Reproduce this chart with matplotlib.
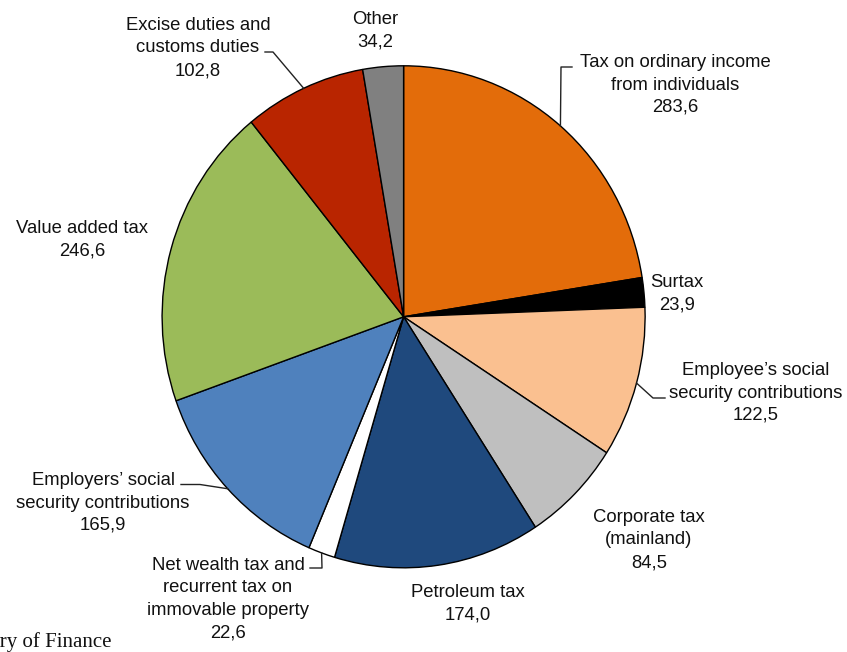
import numpy as np
import matplotlib
matplotlib.use("Agg")
import matplotlib.pyplot as plt
from matplotlib.lines import Line2D

plt.rcParams['font.family'] = ['Liberation Sans', 'DejaVu Sans']

# Tax revenue by source (NOK billion), clockwise from the top
names = [
    "Tax on ordinary income\nfrom individuals",
    "Surtax",
    "Employee\u2019s social\nsecurity contributions",
    "Corporate tax\n(mainland)",
    "Petroleum tax",
    "Net wealth tax and\nrecurrent tax on\nimmovable property",
    "Employers\u2019 social\nsecurity contributions",
    "Value added tax",
    "Excise duties and\ncustoms duties",
    "Other",
]
values = [283.6, 23.9, 122.5, 84.5, 174.0, 22.6, 165.9, 246.6, 102.8, 34.2]
colors = ["#E36C0A", "#000000", "#FAC090", "#BFBFBF", "#1F497D",
          "#FFFFFF", "#4F81BD", "#9BBB59", "#B92500", "#808080"]

# label placement: centre x and centre y of the first line (pixels from top-left)
label_pos = [(675, 62), (677, 282), (756, 370), (649, 517), (468, 592),
             (228, 565), (103, 480), (82, 228), (198, 25), (375, 19)]
# leader elbows (pixels), starting from the wedge edge at its mid angle
leaders = {
    0: [(561, 67), (572, 67)],
    2: [(653, 398), (665, 398)],
    5: [(322, 568), (310, 568)],
    6: [(200, 484.5), (181, 484.5)],
    8: [(273, 52), (265, 52)],
}

W, H = 847, 652
fig = plt.figure(figsize=(W / 100, H / 100), dpi=100)

cx, cy, rx, ry = 403.6, 316.8, 241.5, 251.0
ax = fig.add_axes([(cx - rx) / W, 1 - (cy + ry) / H, 2 * rx / W, 2 * ry / H])
wedges, _ = ax.pie(values, colors=colors, startangle=90, counterclock=False,
                   radius=1.0, wedgeprops=dict(edgecolor="black", linewidth=1.0))
ax.set_aspect("auto")
ax.set_xlim(-1, 1)
ax.set_ylim(-1, 1)
ax.axis("off")


def px(x, y):
    return x / W, 1 - y / H


fs = 13.3
step = 22.5
for i, (name, val) in enumerate(zip(names, values)):
    lx, ly = label_pos[i]
    lines = name.split("\n") + [f"{val:.1f}".replace(".", ",")]
    for j, line in enumerate(lines):
        fig.text(*px(lx, ly + j * step + 5), line, ha="center", va="baseline",
                 fontsize=fs, color="#111111")

fig.canvas.draw()
to_fig = fig.transFigure.inverted()
for i, pts in leaders.items():
    w = wedges[i]
    mid = np.deg2rad((w.theta1 + w.theta2) / 2)
    ex, ey = to_fig.transform(ax.transData.transform((np.cos(mid), np.sin(mid))))
    xs = [ex] + [px(*p)[0] for p in pts]
    ys = [ey] + [px(*p)[1] for p in pts]
    fig.add_artist(Line2D(xs, ys, transform=fig.transFigure, color="#222222",
                          linewidth=1.0))

# source note runs off the left edge of the figure
fig.text(*px(111, 647), "Source: Ministry of Finance", ha="right", va="baseline",
         fontsize=15, family=["Liberation Serif", "DejaVu Serif"], color="#111111")

fig.savefig("out.png", dpi=100)
